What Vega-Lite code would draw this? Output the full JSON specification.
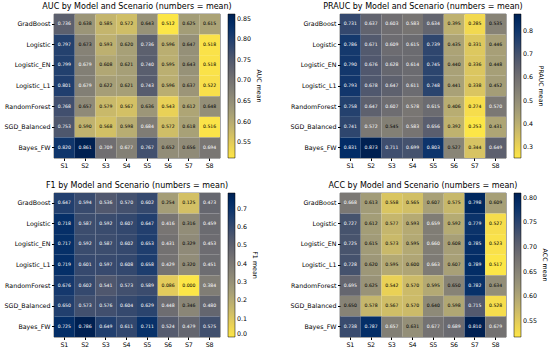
{
"$schema":"https://vega.github.io/schema/vega-lite/v6.json",
"padding":{"left":3,"top":2,"right":2,"bottom":0},
"background":"white",
"datasets":{"d":[
{"metric":"AUC","model":"GradBoost","scenario":"S1","value":0.736},{"metric":"AUC","model":"GradBoost","scenario":"S2","value":0.638},{"metric":"AUC","model":"GradBoost","scenario":"S3","value":0.585},{"metric":"AUC","model":"GradBoost","scenario":"S4","value":0.572},{"metric":"AUC","model":"GradBoost","scenario":"S5","value":0.643},{"metric":"AUC","model":"GradBoost","scenario":"S6","value":0.512},{"metric":"AUC","model":"GradBoost","scenario":"S7","value":0.625},{"metric":"AUC","model":"GradBoost","scenario":"S8","value":0.615},
{"metric":"AUC","model":"Logistic","scenario":"S1","value":0.797},{"metric":"AUC","model":"Logistic","scenario":"S2","value":0.673},{"metric":"AUC","model":"Logistic","scenario":"S3","value":0.593},{"metric":"AUC","model":"Logistic","scenario":"S4","value":0.620},{"metric":"AUC","model":"Logistic","scenario":"S5","value":0.736},{"metric":"AUC","model":"Logistic","scenario":"S6","value":0.596},{"metric":"AUC","model":"Logistic","scenario":"S7","value":0.647},{"metric":"AUC","model":"Logistic","scenario":"S8","value":0.518},
{"metric":"AUC","model":"Logistic_EN","scenario":"S1","value":0.799},{"metric":"AUC","model":"Logistic_EN","scenario":"S2","value":0.679},{"metric":"AUC","model":"Logistic_EN","scenario":"S3","value":0.608},{"metric":"AUC","model":"Logistic_EN","scenario":"S4","value":0.621},{"metric":"AUC","model":"Logistic_EN","scenario":"S5","value":0.740},{"metric":"AUC","model":"Logistic_EN","scenario":"S6","value":0.595},{"metric":"AUC","model":"Logistic_EN","scenario":"S7","value":0.643},{"metric":"AUC","model":"Logistic_EN","scenario":"S8","value":0.518},
{"metric":"AUC","model":"Logistic_L1","scenario":"S1","value":0.801},{"metric":"AUC","model":"Logistic_L1","scenario":"S2","value":0.679},{"metric":"AUC","model":"Logistic_L1","scenario":"S3","value":0.622},{"metric":"AUC","model":"Logistic_L1","scenario":"S4","value":0.621},{"metric":"AUC","model":"Logistic_L1","scenario":"S5","value":0.743},{"metric":"AUC","model":"Logistic_L1","scenario":"S6","value":0.596},{"metric":"AUC","model":"Logistic_L1","scenario":"S7","value":0.637},{"metric":"AUC","model":"Logistic_L1","scenario":"S8","value":0.522},
{"metric":"AUC","model":"RandomForest","scenario":"S1","value":0.768},{"metric":"AUC","model":"RandomForest","scenario":"S2","value":0.657},{"metric":"AUC","model":"RandomForest","scenario":"S3","value":0.579},{"metric":"AUC","model":"RandomForest","scenario":"S4","value":0.567},{"metric":"AUC","model":"RandomForest","scenario":"S5","value":0.636},{"metric":"AUC","model":"RandomForest","scenario":"S6","value":0.543},{"metric":"AUC","model":"RandomForest","scenario":"S7","value":0.612},{"metric":"AUC","model":"RandomForest","scenario":"S8","value":0.648},
{"metric":"AUC","model":"SGD_Balanced","scenario":"S1","value":0.753},{"metric":"AUC","model":"SGD_Balanced","scenario":"S2","value":0.590},{"metric":"AUC","model":"SGD_Balanced","scenario":"S3","value":0.568},{"metric":"AUC","model":"SGD_Balanced","scenario":"S4","value":0.598},{"metric":"AUC","model":"SGD_Balanced","scenario":"S5","value":0.684},{"metric":"AUC","model":"SGD_Balanced","scenario":"S6","value":0.572},{"metric":"AUC","model":"SGD_Balanced","scenario":"S7","value":0.618},{"metric":"AUC","model":"SGD_Balanced","scenario":"S8","value":0.516},
{"metric":"AUC","model":"Bayes_FW","scenario":"S1","value":0.820},{"metric":"AUC","model":"Bayes_FW","scenario":"S2","value":0.861},{"metric":"AUC","model":"Bayes_FW","scenario":"S3","value":0.709},{"metric":"AUC","model":"Bayes_FW","scenario":"S4","value":0.677},{"metric":"AUC","model":"Bayes_FW","scenario":"S5","value":0.767},{"metric":"AUC","model":"Bayes_FW","scenario":"S6","value":0.652},{"metric":"AUC","model":"Bayes_FW","scenario":"S7","value":0.656},{"metric":"AUC","model":"Bayes_FW","scenario":"S8","value":0.694},
{"metric":"PRAUC","model":"GradBoost","scenario":"S1","value":0.731},{"metric":"PRAUC","model":"GradBoost","scenario":"S2","value":0.637},{"metric":"PRAUC","model":"GradBoost","scenario":"S3","value":0.603},{"metric":"PRAUC","model":"GradBoost","scenario":"S4","value":0.583},{"metric":"PRAUC","model":"GradBoost","scenario":"S5","value":0.634},{"metric":"PRAUC","model":"GradBoost","scenario":"S6","value":0.395},{"metric":"PRAUC","model":"GradBoost","scenario":"S7","value":0.285},{"metric":"PRAUC","model":"GradBoost","scenario":"S8","value":0.535},
{"metric":"PRAUC","model":"Logistic","scenario":"S1","value":0.786},{"metric":"PRAUC","model":"Logistic","scenario":"S2","value":0.671},{"metric":"PRAUC","model":"Logistic","scenario":"S3","value":0.609},{"metric":"PRAUC","model":"Logistic","scenario":"S4","value":0.615},{"metric":"PRAUC","model":"Logistic","scenario":"S5","value":0.739},{"metric":"PRAUC","model":"Logistic","scenario":"S6","value":0.435},{"metric":"PRAUC","model":"Logistic","scenario":"S7","value":0.331},{"metric":"PRAUC","model":"Logistic","scenario":"S8","value":0.446},
{"metric":"PRAUC","model":"Logistic_EN","scenario":"S1","value":0.790},{"metric":"PRAUC","model":"Logistic_EN","scenario":"S2","value":0.676},{"metric":"PRAUC","model":"Logistic_EN","scenario":"S3","value":0.628},{"metric":"PRAUC","model":"Logistic_EN","scenario":"S4","value":0.614},{"metric":"PRAUC","model":"Logistic_EN","scenario":"S5","value":0.745},{"metric":"PRAUC","model":"Logistic_EN","scenario":"S6","value":0.440},{"metric":"PRAUC","model":"Logistic_EN","scenario":"S7","value":0.336},{"metric":"PRAUC","model":"Logistic_EN","scenario":"S8","value":0.448},
{"metric":"PRAUC","model":"Logistic_L1","scenario":"S1","value":0.793},{"metric":"PRAUC","model":"Logistic_L1","scenario":"S2","value":0.678},{"metric":"PRAUC","model":"Logistic_L1","scenario":"S3","value":0.647},{"metric":"PRAUC","model":"Logistic_L1","scenario":"S4","value":0.611},{"metric":"PRAUC","model":"Logistic_L1","scenario":"S5","value":0.748},{"metric":"PRAUC","model":"Logistic_L1","scenario":"S6","value":0.441},{"metric":"PRAUC","model":"Logistic_L1","scenario":"S7","value":0.338},{"metric":"PRAUC","model":"Logistic_L1","scenario":"S8","value":0.452},
{"metric":"PRAUC","model":"RandomForest","scenario":"S1","value":0.758},{"metric":"PRAUC","model":"RandomForest","scenario":"S2","value":0.647},{"metric":"PRAUC","model":"RandomForest","scenario":"S3","value":0.607},{"metric":"PRAUC","model":"RandomForest","scenario":"S4","value":0.578},{"metric":"PRAUC","model":"RandomForest","scenario":"S5","value":0.615},{"metric":"PRAUC","model":"RandomForest","scenario":"S6","value":0.406},{"metric":"PRAUC","model":"RandomForest","scenario":"S7","value":0.274},{"metric":"PRAUC","model":"RandomForest","scenario":"S8","value":0.570},
{"metric":"PRAUC","model":"SGD_Balanced","scenario":"S1","value":0.741},{"metric":"PRAUC","model":"SGD_Balanced","scenario":"S2","value":0.572},{"metric":"PRAUC","model":"SGD_Balanced","scenario":"S3","value":0.545},{"metric":"PRAUC","model":"SGD_Balanced","scenario":"S4","value":0.583},{"metric":"PRAUC","model":"SGD_Balanced","scenario":"S5","value":0.656},{"metric":"PRAUC","model":"SGD_Balanced","scenario":"S6","value":0.392},{"metric":"PRAUC","model":"SGD_Balanced","scenario":"S7","value":0.253},{"metric":"PRAUC","model":"SGD_Balanced","scenario":"S8","value":0.431},
{"metric":"PRAUC","model":"Bayes_FW","scenario":"S1","value":0.831},{"metric":"PRAUC","model":"Bayes_FW","scenario":"S2","value":0.873},{"metric":"PRAUC","model":"Bayes_FW","scenario":"S3","value":0.711},{"metric":"PRAUC","model":"Bayes_FW","scenario":"S4","value":0.699},{"metric":"PRAUC","model":"Bayes_FW","scenario":"S5","value":0.803},{"metric":"PRAUC","model":"Bayes_FW","scenario":"S6","value":0.527},{"metric":"PRAUC","model":"Bayes_FW","scenario":"S7","value":0.344},{"metric":"PRAUC","model":"Bayes_FW","scenario":"S8","value":0.649},
{"metric":"F1","model":"GradBoost","scenario":"S1","value":0.647},{"metric":"F1","model":"GradBoost","scenario":"S2","value":0.594},{"metric":"F1","model":"GradBoost","scenario":"S3","value":0.536},{"metric":"F1","model":"GradBoost","scenario":"S4","value":0.570},{"metric":"F1","model":"GradBoost","scenario":"S5","value":0.602},{"metric":"F1","model":"GradBoost","scenario":"S6","value":0.254},{"metric":"F1","model":"GradBoost","scenario":"S7","value":0.125},{"metric":"F1","model":"GradBoost","scenario":"S8","value":0.473},
{"metric":"F1","model":"Logistic","scenario":"S1","value":0.718},{"metric":"F1","model":"Logistic","scenario":"S2","value":0.587},{"metric":"F1","model":"Logistic","scenario":"S3","value":0.592},{"metric":"F1","model":"Logistic","scenario":"S4","value":0.607},{"metric":"F1","model":"Logistic","scenario":"S5","value":0.647},{"metric":"F1","model":"Logistic","scenario":"S6","value":0.416},{"metric":"F1","model":"Logistic","scenario":"S7","value":0.316},{"metric":"F1","model":"Logistic","scenario":"S8","value":0.459},
{"metric":"F1","model":"Logistic_EN","scenario":"S1","value":0.717},{"metric":"F1","model":"Logistic_EN","scenario":"S2","value":0.592},{"metric":"F1","model":"Logistic_EN","scenario":"S3","value":0.587},{"metric":"F1","model":"Logistic_EN","scenario":"S4","value":0.602},{"metric":"F1","model":"Logistic_EN","scenario":"S5","value":0.653},{"metric":"F1","model":"Logistic_EN","scenario":"S6","value":0.431},{"metric":"F1","model":"Logistic_EN","scenario":"S7","value":0.329},{"metric":"F1","model":"Logistic_EN","scenario":"S8","value":0.453},
{"metric":"F1","model":"Logistic_L1","scenario":"S1","value":0.719},{"metric":"F1","model":"Logistic_L1","scenario":"S2","value":0.601},{"metric":"F1","model":"Logistic_L1","scenario":"S3","value":0.597},{"metric":"F1","model":"Logistic_L1","scenario":"S4","value":0.608},{"metric":"F1","model":"Logistic_L1","scenario":"S5","value":0.658},{"metric":"F1","model":"Logistic_L1","scenario":"S6","value":0.429},{"metric":"F1","model":"Logistic_L1","scenario":"S7","value":0.320},{"metric":"F1","model":"Logistic_L1","scenario":"S8","value":0.451},
{"metric":"F1","model":"RandomForest","scenario":"S1","value":0.676},{"metric":"F1","model":"RandomForest","scenario":"S2","value":0.602},{"metric":"F1","model":"RandomForest","scenario":"S3","value":0.541},{"metric":"F1","model":"RandomForest","scenario":"S4","value":0.573},{"metric":"F1","model":"RandomForest","scenario":"S5","value":0.589},{"metric":"F1","model":"RandomForest","scenario":"S6","value":0.086},{"metric":"F1","model":"RandomForest","scenario":"S7","value":0.000},{"metric":"F1","model":"RandomForest","scenario":"S8","value":0.384},
{"metric":"F1","model":"SGD_Balanced","scenario":"S1","value":0.650},{"metric":"F1","model":"SGD_Balanced","scenario":"S2","value":0.573},{"metric":"F1","model":"SGD_Balanced","scenario":"S3","value":0.576},{"metric":"F1","model":"SGD_Balanced","scenario":"S4","value":0.604},{"metric":"F1","model":"SGD_Balanced","scenario":"S5","value":0.629},{"metric":"F1","model":"SGD_Balanced","scenario":"S6","value":0.448},{"metric":"F1","model":"SGD_Balanced","scenario":"S7","value":0.346},{"metric":"F1","model":"SGD_Balanced","scenario":"S8","value":0.480},
{"metric":"F1","model":"Bayes_FW","scenario":"S1","value":0.725},{"metric":"F1","model":"Bayes_FW","scenario":"S2","value":0.786},{"metric":"F1","model":"Bayes_FW","scenario":"S3","value":0.649},{"metric":"F1","model":"Bayes_FW","scenario":"S4","value":0.611},{"metric":"F1","model":"Bayes_FW","scenario":"S5","value":0.711},{"metric":"F1","model":"Bayes_FW","scenario":"S6","value":0.524},{"metric":"F1","model":"Bayes_FW","scenario":"S7","value":0.479},{"metric":"F1","model":"Bayes_FW","scenario":"S8","value":0.575},
{"metric":"ACC","model":"GradBoost","scenario":"S1","value":0.668},{"metric":"ACC","model":"GradBoost","scenario":"S2","value":0.613},{"metric":"ACC","model":"GradBoost","scenario":"S3","value":0.558},{"metric":"ACC","model":"GradBoost","scenario":"S4","value":0.565},{"metric":"ACC","model":"GradBoost","scenario":"S5","value":0.607},{"metric":"ACC","model":"GradBoost","scenario":"S6","value":0.575},{"metric":"ACC","model":"GradBoost","scenario":"S7","value":0.798},{"metric":"ACC","model":"GradBoost","scenario":"S8","value":0.609},
{"metric":"ACC","model":"Logistic","scenario":"S1","value":0.727},{"metric":"ACC","model":"Logistic","scenario":"S2","value":0.612},{"metric":"ACC","model":"Logistic","scenario":"S3","value":0.577},{"metric":"ACC","model":"Logistic","scenario":"S4","value":0.593},{"metric":"ACC","model":"Logistic","scenario":"S5","value":0.659},{"metric":"ACC","model":"Logistic","scenario":"S6","value":0.592},{"metric":"ACC","model":"Logistic","scenario":"S7","value":0.779},{"metric":"ACC","model":"Logistic","scenario":"S8","value":0.527},
{"metric":"ACC","model":"Logistic_EN","scenario":"S1","value":0.725},{"metric":"ACC","model":"Logistic_EN","scenario":"S2","value":0.615},{"metric":"ACC","model":"Logistic_EN","scenario":"S3","value":0.573},{"metric":"ACC","model":"Logistic_EN","scenario":"S4","value":0.595},{"metric":"ACC","model":"Logistic_EN","scenario":"S5","value":0.660},{"metric":"ACC","model":"Logistic_EN","scenario":"S6","value":0.608},{"metric":"ACC","model":"Logistic_EN","scenario":"S7","value":0.785},{"metric":"ACC","model":"Logistic_EN","scenario":"S8","value":0.523},
{"metric":"ACC","model":"Logistic_L1","scenario":"S1","value":0.728},{"metric":"ACC","model":"Logistic_L1","scenario":"S2","value":0.620},{"metric":"ACC","model":"Logistic_L1","scenario":"S3","value":0.595},{"metric":"ACC","model":"Logistic_L1","scenario":"S4","value":0.600},{"metric":"ACC","model":"Logistic_L1","scenario":"S5","value":0.663},{"metric":"ACC","model":"Logistic_L1","scenario":"S6","value":0.607},{"metric":"ACC","model":"Logistic_L1","scenario":"S7","value":0.789},{"metric":"ACC","model":"Logistic_L1","scenario":"S8","value":0.517},
{"metric":"ACC","model":"RandomForest","scenario":"S1","value":0.695},{"metric":"ACC","model":"RandomForest","scenario":"S2","value":0.625},{"metric":"ACC","model":"RandomForest","scenario":"S3","value":0.542},{"metric":"ACC","model":"RandomForest","scenario":"S4","value":0.570},{"metric":"ACC","model":"RandomForest","scenario":"S5","value":0.595},{"metric":"ACC","model":"RandomForest","scenario":"S6","value":0.650},{"metric":"ACC","model":"RandomForest","scenario":"S7","value":0.782},{"metric":"ACC","model":"RandomForest","scenario":"S8","value":0.634},
{"metric":"ACC","model":"SGD_Balanced","scenario":"S1","value":0.650},{"metric":"ACC","model":"SGD_Balanced","scenario":"S2","value":0.578},{"metric":"ACC","model":"SGD_Balanced","scenario":"S3","value":0.567},{"metric":"ACC","model":"SGD_Balanced","scenario":"S4","value":0.570},{"metric":"ACC","model":"SGD_Balanced","scenario":"S5","value":0.640},{"metric":"ACC","model":"SGD_Balanced","scenario":"S6","value":0.598},{"metric":"ACC","model":"SGD_Balanced","scenario":"S7","value":0.715},{"metric":"ACC","model":"SGD_Balanced","scenario":"S8","value":0.528},
{"metric":"ACC","model":"Bayes_FW","scenario":"S1","value":0.738},{"metric":"ACC","model":"Bayes_FW","scenario":"S2","value":0.787},{"metric":"ACC","model":"Bayes_FW","scenario":"S3","value":0.657},{"metric":"ACC","model":"Bayes_FW","scenario":"S4","value":0.631},{"metric":"ACC","model":"Bayes_FW","scenario":"S5","value":0.677},{"metric":"ACC","model":"Bayes_FW","scenario":"S6","value":0.689},{"metric":"ACC","model":"Bayes_FW","scenario":"S7","value":0.810},{"metric":"ACC","model":"Bayes_FW","scenario":"S8","value":0.679}
]},
"data":{"name":"d"},
"columns":2,
"spacing":{"row":12,"column":26},
"resolve":{"scale":{"color":"independent"},"legend":{"color":"independent"}},
"concat":[
{"title":"AUC by Model and Scenario (numbers = mean)","width":166,"height":144,
 "transform":[{"filter":"datum.metric==='AUC'"}],
 "encoding":{"x":{"field":"scenario","type":"ordinal","title":null},"y":{"field":"model","type":"ordinal","title":null,"sort":["GradBoost","Logistic","Logistic_EN","Logistic_L1","RandomForest","SGD_Balanced","Bayes_FW"]}},
 "layer":[
  {"mark":{"type":"rect"},"encoding":{"color":{"field":"value","type":"quantitative","scale":{"scheme":"cividis","reverse":true},"legend":{"title":"AUC mean","values":[0.55,0.6,0.65,0.7,0.75,0.8,0.85],"format":".2f"}}}},
  {"mark":{"type":"text","fontSize":4.6},"encoding":{"text":{"field":"value","type":"quantitative","format":".3f"},"color":{"condition":{"test":"datum.value>0.675","value":"white"},"value":"black"}}}
 ]},
{"title":"PRAUC by Model and Scenario (numbers = mean)","width":166,"height":144,
 "transform":[{"filter":"datum.metric==='PRAUC'"}],
 "encoding":{"x":{"field":"scenario","type":"ordinal","title":null},"y":{"field":"model","type":"ordinal","title":null,"sort":["GradBoost","Logistic","Logistic_EN","Logistic_L1","RandomForest","SGD_Balanced","Bayes_FW"]}},
 "layer":[
  {"mark":{"type":"rect"},"encoding":{"color":{"field":"value","type":"quantitative","scale":{"scheme":"cividis","reverse":true},"legend":{"title":"PRAUC mean","values":[0.3,0.4,0.5,0.6,0.7,0.8],"format":".1f"}}}},
  {"mark":{"type":"text","fontSize":4.6},"encoding":{"text":{"field":"value","type":"quantitative","format":".3f"},"color":{"condition":{"test":"datum.value>0.56","value":"white"},"value":"black"}}}
 ]},
{"title":"F1 by Model and Scenario (numbers = mean)","width":166,"height":144,
 "transform":[{"filter":"datum.metric==='F1'"}],
 "encoding":{"x":{"field":"scenario","type":"ordinal","title":null},"y":{"field":"model","type":"ordinal","title":null,"sort":["GradBoost","Logistic","Logistic_EN","Logistic_L1","RandomForest","SGD_Balanced","Bayes_FW"]}},
 "layer":[
  {"mark":{"type":"rect"},"encoding":{"color":{"field":"value","type":"quantitative","scale":{"scheme":"cividis","reverse":true},"legend":{"title":"F1 mean","values":[0,0.1,0.2,0.3,0.4,0.5,0.6,0.7],"format":".1f"}}}},
  {"mark":{"type":"text","fontSize":4.6},"encoding":{"text":{"field":"value","type":"quantitative","format":".3f"},"color":{"condition":{"test":"datum.value>0.36","value":"white"},"value":"black"}}}
 ]},
{"title":"ACC by Model and Scenario (numbers = mean)","width":166,"height":144,
 "transform":[{"filter":"datum.metric==='ACC'"}],
 "encoding":{"x":{"field":"scenario","type":"ordinal","title":null},"y":{"field":"model","type":"ordinal","title":null,"sort":["GradBoost","Logistic","Logistic_EN","Logistic_L1","RandomForest","SGD_Balanced","Bayes_FW"]}},
 "layer":[
  {"mark":{"type":"rect"},"encoding":{"color":{"field":"value","type":"quantitative","scale":{"scheme":"cividis","reverse":true},"legend":{"title":"ACC mean","values":[0.55,0.6,0.65,0.7,0.75,0.8],"format":".2f"}}}},
  {"mark":{"type":"text","fontSize":4.6},"encoding":{"text":{"field":"value","type":"quantitative","format":".3f"},"color":{"condition":{"test":"datum.value>0.655","value":"white"},"value":"black"}}}
 ]}
],
"config":{
 "font":"DejaVu Sans",
 "view":{"stroke":"black","strokeWidth":0.6},
 "title":{"fontSize":8,"fontWeight":"normal","offset":3,"color":"black"},
 "axis":{"labelFontSize":6.3,"labelColor":"black","tickColor":"black","tickSize":2.5,"labelPadding":1.5,"domain":false,"labelAngle":0,"grid":false},
 "legend":{"gradientLength":144,"gradientThickness":7,"labelFontSize":6.3,"labelColor":"black","titleFontSize":6.3,"titleFontWeight":"normal","titleColor":"black","titleOrient":"right","titleAngle":270,"titleAnchor":"middle","offset":8,"padding":0,"gradientStrokeColor":"black","gradientStrokeWidth":0.5,"labelOffset":3}
}
}
